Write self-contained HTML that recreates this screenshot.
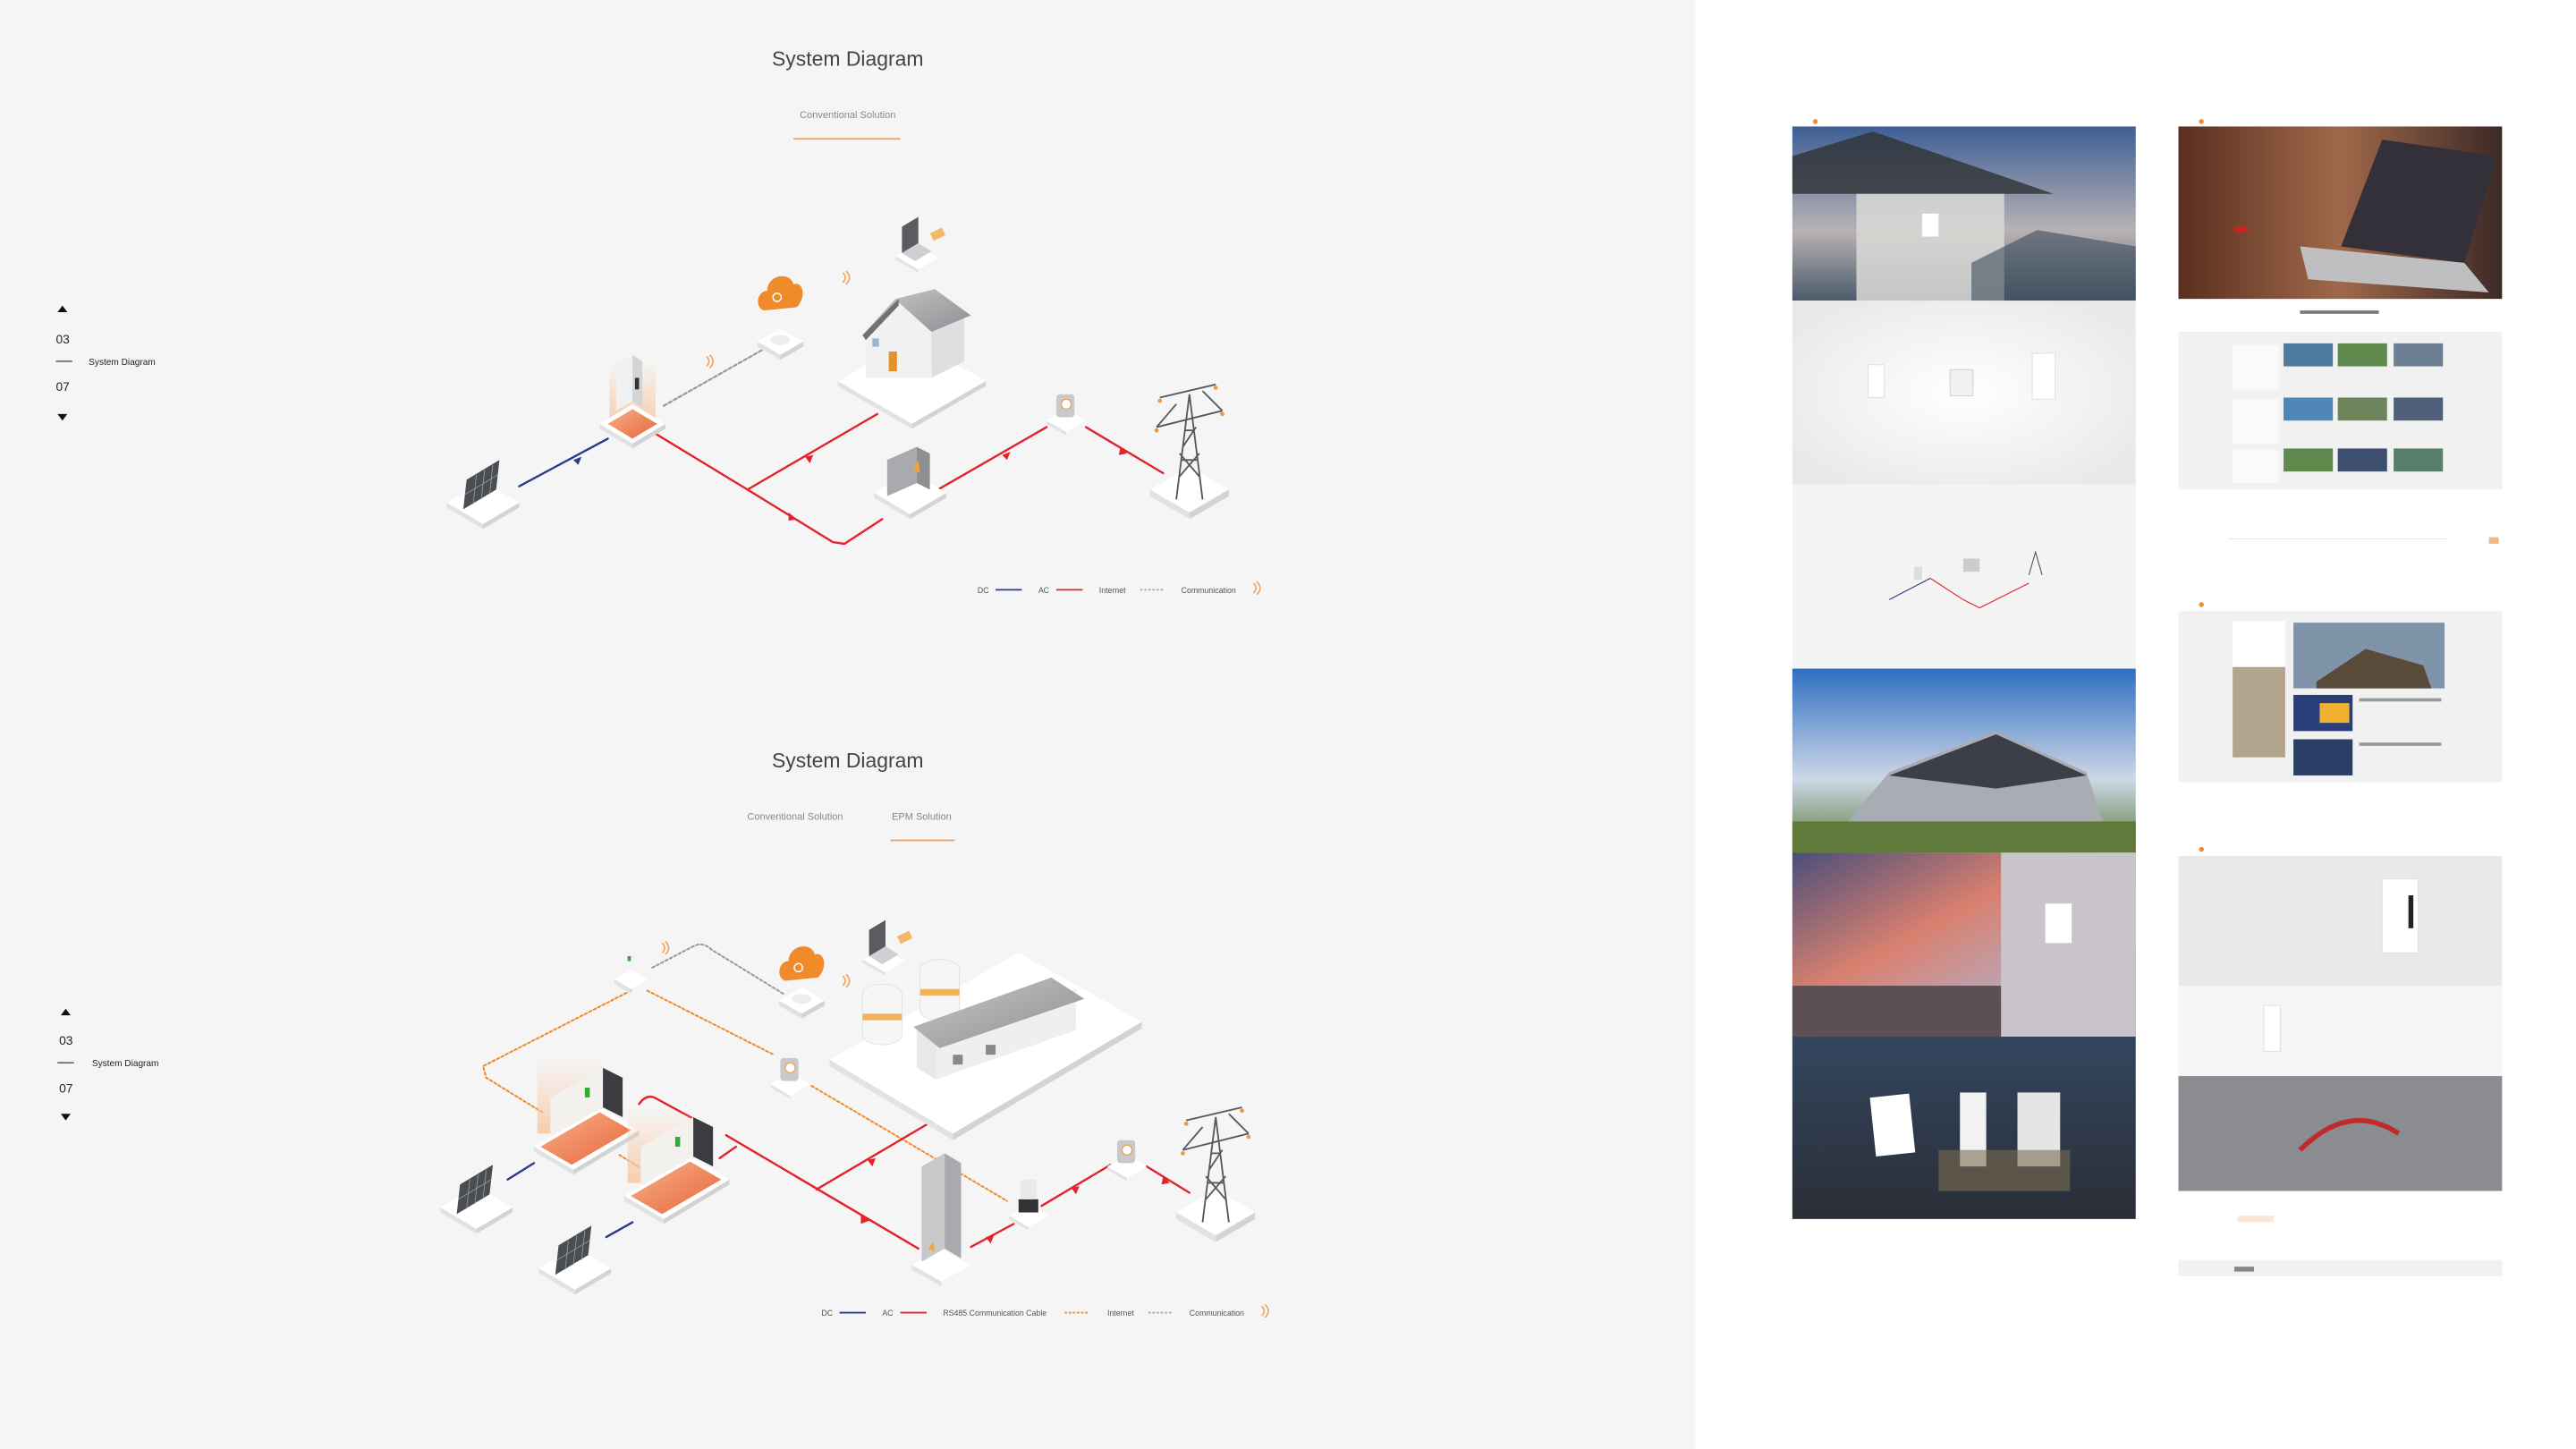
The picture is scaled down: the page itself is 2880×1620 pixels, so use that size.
<!DOCTYPE html>
<html><head><meta charset="utf-8"><style>
html,body{margin:0;padding:0;background:#fff;}
svg{display:block;width:2880px;height:1620px;}
text{font-family:"Liberation Sans",sans-serif;}
</style></head><body>
<svg viewBox="0 0 1568 882" preserveAspectRatio="none" xmlns="http://www.w3.org/2000/svg">
<defs>
<linearGradient id="og" x1="0" y1="0" x2="1" y2="1"><stop offset="0" stop-color="#f6b28a"/><stop offset="1" stop-color="#e8643a"/></linearGradient>
<linearGradient id="glow" x1="0" y1="1" x2="0" y2="0"><stop offset="0" stop-color="#f7c9a5" stop-opacity=".9"/><stop offset="1" stop-color="#f7c9a5" stop-opacity="0"/></linearGradient>
<linearGradient id="roof" x1="0" y1="0" x2="1" y2="1"><stop offset="0" stop-color="#c8c8ca"/><stop offset="1" stop-color="#8d8e91"/></linearGradient>
<linearGradient id="sky1" x1="0" y1="0" x2="0" y2="1"><stop offset="0" stop-color="#3d5f95"/><stop offset=".6" stop-color="#b9b2b5"/><stop offset="1" stop-color="#4b5b6a"/></linearGradient>
<linearGradient id="sky2" x1="0" y1="0" x2="0" y2="1"><stop offset="0" stop-color="#2f6fc2"/><stop offset=".6" stop-color="#cdd7e6"/><stop offset="1" stop-color="#5c7d3c"/></linearGradient>
<linearGradient id="sky3" x1="0" y1="0" x2="1" y2="1"><stop offset="0" stop-color="#4a4f7a"/><stop offset=".4" stop-color="#d9806f"/><stop offset=".7" stop-color="#b9a7b8"/><stop offset="1" stop-color="#6e6a78"/></linearGradient>
<linearGradient id="sky4" x1="0" y1="0" x2="0" y2="1"><stop offset="0" stop-color="#33465f"/><stop offset="1" stop-color="#2a2e36"/></linearGradient>
<linearGradient id="lap" x1="0" y1="0" x2="1" y2="0"><stop offset="0" stop-color="#5a2f1f"/><stop offset=".5" stop-color="#a0684a"/><stop offset="1" stop-color="#3c2a26"/></linearGradient>
<radialGradient id="wav" cx=".5" cy=".5" r=".6"><stop offset="0" stop-color="#fff"/><stop offset="1" stop-color="#e9e9ea"/></radialGradient>
<g id="base">
<polygon points="-22,0 0,-13 22,0 0,13" fill="#fff"/>
<polygon points="-22,0 0,13 0,16 -22,3" fill="#e2e2e2"/>
<polygon points="22,0 0,13 0,16 22,3" fill="#d4d4d4"/>
</g>
<g id="solar">
<use href="#base"/>
<polygon points="-12,4 8,-8 10,-26 -10,-14" fill="#4a4d52"/>
<g stroke="#9aa" stroke-width=".4"><line x1="-11" y1="-5" x2="9" y2="-17"/><line x1="-6" y1="1" x2="-4" y2="-17"/><line x1="-1" y1="-2" x2="1" y2="-20"/><line x1="4" y1="-5" x2="6" y2="-23"/></g>
</g>
<g id="meter">
<polygon points="-12,0 0,-7 12,0 0,7" fill="#fff"/><polygon points="-12,0 0,7 0,9 -12,2" fill="#e3e3e3"/>
<rect x="-6" y="-16" width="11" height="14" rx="2" fill="#c9c9cb"/><circle cx="0" cy="-10" r="3" fill="#fff" stroke="#e89b4c" stroke-width=".6"/>
</g>
<g id="tower" stroke="#55585c" stroke-width="1" fill="none">
<polygon points="-24,8 0,-6 24,8 0,22" fill="#fff" stroke="none"/>
<polygon points="-24,8 0,22 0,26 -24,12" fill="#e2e2e2" stroke="none"/>
<polygon points="24,8 0,22 0,26 24,12" fill="#d3d3d3" stroke="none"/>
<path d="M-8,14 L0,-50 L8,14 M-5,-10 L5,-10 M-3,-28 L3,-28 M-6,0 L6,-14 M6,0 L-6,-14 M-4,-18 L4,-30"/>
<path d="M-20,-30 L20,-40 M-18,-48 L16,-56 M-20,-30 L-8,-44 M20,-40 L8,-52"/>
<g fill="#e89b4c" stroke="none"><circle cx="-20" cy="-28" r="1.3"/><circle cx="20" cy="-38" r="1.3"/><circle cx="-18" cy="-46" r="1.3"/><circle cx="16" cy="-54" r="1.3"/></g>
</g>
<g id="cloud"><path d="M-10,8 C-16,6 -14,-4 -8,-4 C-8,-14 6,-16 8,-8 C14,-10 16,0 10,6 Z" fill="#f08b2c"/><circle cx="-2" cy="0" r="2.5" fill="none" stroke="#fff" stroke-width=".8"/></g>
<g id="laptop">
<polygon points="-12,4 0,-3 14,5 2,12" fill="#fff"/><polygon points="-12,4 2,12 2,14 -12,6" fill="#e3e3e3"/>
<polygon points="-8,2 2,-4 10,1 0,7" fill="#cfd0d2"/><polygon points="-8,2 -8,-14 2,-20 2,-4" fill="#5a5c60"/>
<rect x="10" y="-12" width="8" height="5" fill="#f2b868" transform="rotate(-25 14 -9)"/>
</g>
<g id="router"><polygon points="-14,0 0,-8 14,0 0,8" fill="#fff"/><polygon points="-14,0 0,8 0,11 -14,3" fill="#e1e1e1"/><polygon points="14,0 0,8 0,11 14,3" fill="#d3d3d3"/><ellipse cx="0" cy="-1" rx="6" ry="3" fill="#eee"/></g>
<g id="wifi" fill="none" stroke="#f0a050" stroke-width=".8"><path d="M0,0 q3,-3 0,-6"/><path d="M2,1 q4,-4 0,-8"/></g>
</defs>

<rect x="0" y="0" width="1568" height="882" fill="#fff"/>
<rect x="0" y="0" width="1032" height="882" fill="#f5f5f5"/>

<!-- ===== Panel 1 ===== -->
<text x="516" y="40" text-anchor="middle" font-size="12.5" fill="#444">System Diagram</text>
<text x="516" y="72" text-anchor="middle" font-size="6" fill="#888">Conventional Solution</text>
<rect x="483" y="84" width="65" height="1" fill="#f2a25e"/>

<g font-size="7.5" fill="#222">
<polygon points="35,190 38,186 41,190" fill="#111"/>
<text x="34" y="209">03</text>
<rect x="34" y="219.5" width="10" height=".8" fill="#555"/>
<text x="54" y="222" font-size="5.5">System Diagram</text>
<text x="34" y="238">07</text>
<polygon points="35,252 38,256 41,252" fill="#111"/>
</g>

<g fill="none" stroke-linecap="round">
<line x1="316" y1="296" x2="370" y2="267" stroke="#2c3a8c" stroke-width="1.3"/>
<polyline points="399,264 455,298 507,330 514,331 537,316" stroke="#e3222b" stroke-width="1.3"/>
<line x1="455" y1="298" x2="534" y2="252" stroke="#e3222b" stroke-width="1.3"/>
<line x1="571" y1="298" x2="637" y2="260" stroke="#e3222b" stroke-width="1.3"/>
<line x1="661" y1="260" x2="708" y2="288" stroke="#e3222b" stroke-width="1.3"/>
<line x1="404" y1="247" x2="464" y2="213" stroke="#999" stroke-width="1.2" stroke-dasharray="2,1.5"/>
</g>
<g fill="#e3222b"><polygon points="490,278 495,277 493,282"/><polygon points="480,312 485,316 480,317"/><polygon points="610,277 615,275 613,280"/><polygon points="682,272 686,276 681,277"/></g>
<polygon points="349,280 354,278 352,283" fill="#2c3a8c"/>

<use href="#solar" x="294" y="306"/>
<g transform="translate(385,258)">
<rect x="-14" y="-38" width="28" height="38" fill="url(#glow)"/>
<polygon points="-20,0 0,-12 20,0 0,12" fill="#fff"/>
<polygon points="-15,0 0,-9 15,0 0,9" fill="url(#og)"/>
<polygon points="-20,0 0,12 0,15 -20,3" fill="#e2e2e2"/><polygon points="20,0 0,12 0,15 20,3" fill="#d3d3d3"/>
<polygon points="-10,-8 -10,-36 0,-42 0,-14" fill="#f1f1f1"/><polygon points="0,-14 0,-42 6,-38 6,-10" fill="#d5d5d6"/>
<rect x="1.5" y="-28" width="2.5" height="7" fill="#333"/>
</g>
<use href="#wifi" x="430" y="223"/>
<use href="#router" x="475" y="208"/>
<use href="#cloud" x="475" y="181"/>
<use href="#wifi" x="513" y="172"/>
<use href="#laptop" x="557" y="152"/>
<g transform="translate(555,232)">
<polygon points="-45,0 0,-26 45,0 0,26" fill="#fff"/>
<polygon points="-45,0 0,26 0,29 -45,3" fill="#e2e2e2"/><polygon points="45,0 0,26 0,29 45,3" fill="#d3d3d3"/>
<polygon points="-28,-2 -28,-30 -8,-48 12,-30 12,-2" fill="#f1f1f1"/>
<polygon points="12,-2 12,-30 32,-40 32,-12" fill="#dedfe0"/>
<polygon points="-30,-28 -10,-50 14,-56 36,-40 12,-30 -8,-48" fill="url(#roof)"/>
<polygon points="-30,-28 -8,-50 -8,-46 -28,-25" fill="#707174"/>
<rect x="-14" y="-18" width="5" height="12" fill="#e0932f"/>
<rect x="-24" y="-26" width="4" height="5" fill="#9fb3c6"/>
</g>
<g transform="translate(554,300)">
<use href="#base"/>
<polygon points="-14,2 -14,-20 4,-28 4,-6" fill="#a9aaad"/><polygon points="4,-6 4,-28 12,-24 12,-2" fill="#8e8f92"/>
<polygon points="2,-14 5,-20 6,-12" fill="#f2a43a"/>
</g>
<use href="#meter" x="649" y="256"/>
<use href="#tower" x="724" y="290"/>

<g font-size="4.8" fill="#555">
<text x="595" y="361">DC</text><line x1="606" y1="359" x2="622" y2="359" stroke="#2c3a8c" stroke-width="1"/>
<text x="632" y="361">AC</text><line x1="643" y1="359" x2="659" y2="359" stroke="#e3222b" stroke-width="1"/>
<text x="669" y="361">Internet</text><line x1="694" y1="359" x2="709" y2="359" stroke="#aaa" stroke-width="1" stroke-dasharray="1.5,1"/>
<text x="719" y="361">Communication</text><use href="#wifi" x="763" y="361"/>
</g>

<!-- ===== Panel 2 ===== -->
<text x="516" y="467" text-anchor="middle" font-size="12.5" fill="#444">System Diagram</text>
<text x="484" y="499" text-anchor="middle" font-size="6" fill="#888">Conventional Solution</text>
<text x="561" y="499" text-anchor="middle" font-size="6" fill="#888">EPM Solution</text>
<rect x="542" y="511" width="39" height="1" fill="#f2a25e"/>

<g font-size="7.5" fill="#222">
<polygon points="37,618 40,614 43,618" fill="#111"/>
<text x="36" y="636">03</text>
<rect x="35" y="646.5" width="10" height=".8" fill="#555"/>
<text x="56" y="649" font-size="5.5">System Diagram</text>
<text x="36" y="665">07</text>
<polygon points="37,678 40,682 43,678" fill="#111"/>
</g>

<g fill="none" stroke-linecap="round">
<polyline points="384,603 294,649 296,656 330,677" stroke="#f08b2c" stroke-width="1.1" stroke-dasharray="1.5,1.5"/>
<polyline points="394,603 471,642" stroke="#f08b2c" stroke-width="1.1" stroke-dasharray="1.5,1.5"/>
<polyline points="494,661 613,731" stroke="#f08b2c" stroke-width="1.1" stroke-dasharray="1.5,1.5"/>
<polyline points="377,703 390,711" stroke="#f08b2c" stroke-width="1.1" stroke-dasharray="1.5,1.5"/>
<path d="M397,589 L422,576 Q428,573 433,578 L477,605" stroke="#999" stroke-width="1.1" stroke-dasharray="1.5,1.5"/>
<path d="M389,672 Q394,665 400,669 L424,682" stroke="#e3222b" stroke-width="1.3"/>
<line x1="442" y1="691" x2="559" y2="760" stroke="#e3222b" stroke-width="1.3"/>
<line x1="497" y1="724" x2="575" y2="678" stroke="#e3222b" stroke-width="1.3"/>
<line x1="591" y1="759" x2="617" y2="745" stroke="#e3222b" stroke-width="1.3"/>
<line x1="634" y1="734" x2="676" y2="709" stroke="#e3222b" stroke-width="1.3"/>
<line x1="698" y1="710" x2="724" y2="726" stroke="#e3222b" stroke-width="1.3"/>
<line x1="438" y1="705" x2="448" y2="698" stroke="#e3222b" stroke-width="1.3"/>
<line x1="309" y1="718" x2="325" y2="708" stroke="#2c3a8c" stroke-width="1.3"/>
<line x1="369" y1="753" x2="385" y2="744" stroke="#2c3a8c" stroke-width="1.3"/>
</g>
<g fill="#e3222b"><polygon points="528,706 533,705 531,710"/><polygon points="524,740 529,743 524,745"/><polygon points="600,753 605,752 603,757"/><polygon points="652,723 657,722 655,727"/><polygon points="708,716 712,720 707,721"/></g>

<use href="#solar" x="290" y="735"/>
<use href="#solar" x="350" y="772"/>
<g transform="translate(357,690)">
<rect x="-30" y="-45" width="40" height="45" fill="url(#glow)"/>
<polygon points="-32,8 8,-16 32,-2 -8,22" fill="#fff"/>
<polygon points="-28,8 8,-13 27,-2 -9,19" fill="url(#og)"/>
<polygon points="-32,8 -8,22 -8,25 -32,11" fill="#e2e2e2"/><polygon points="32,-2 -8,22 -8,25 32,1" fill="#d2d2d2"/>
<polygon points="-22,2 -22,-22 10,-40 10,-16" fill="#f3f1ee"/><polygon points="10,-16 10,-40 22,-34 22,-10" fill="#3b3c3f"/>
<rect x="-1" y="-28" width="3" height="6" fill="#3a3"/>
</g>
<g transform="translate(412,720)">
<rect x="-30" y="-45" width="40" height="45" fill="url(#glow)"/>
<polygon points="-32,8 8,-16 32,-2 -8,22" fill="#fff"/>
<polygon points="-28,8 8,-13 27,-2 -9,19" fill="url(#og)"/>
<polygon points="-32,8 -8,22 -8,25 -32,11" fill="#e2e2e2"/><polygon points="32,-2 -8,22 -8,25 32,1" fill="#d2d2d2"/>
<polygon points="-22,2 -22,-22 10,-40 10,-16" fill="#f3f1ee"/><polygon points="10,-16 10,-40 22,-34 22,-10" fill="#3b3c3f"/>
<rect x="-1" y="-28" width="3" height="6" fill="#3a3"/>
</g>
<g transform="translate(384,596)">
<polygon points="-10,0 0,-6 10,0 0,6" fill="#fff"/><polygon points="-10,0 0,6 0,9 -10,3" fill="#e2e2e2"/>
<polygon points="-6,-2 -6,-14 4,-20 4,-8" fill="#f4f4f4"/><rect x="-2" y="-14" width="2" height="3" fill="#3a3"/>
</g>
<use href="#wifi" x="403" y="580"/>
<use href="#cloud" x="488" y="589"/>
<use href="#wifi" x="513" y="600"/>
<use href="#laptop" x="537" y="580"/>
<use href="#router" x="488" y="609"/>
<use href="#meter" x="481" y="660"/>
<g transform="translate(600,650)">
<polygon points="-95,-5 20,-70 95,-28 -20,40" fill="#fff"/>
<polygon points="-95,-5 -20,40 -20,44 -95,-1" fill="#e3e3e3"/><polygon points="95,-28 -20,40 -20,44 95,-24" fill="#d3d3d3"/>
<g fill="#f6f6f6" stroke="#ddd" stroke-width=".4">
<path d="M-75,-20 v-25 a12,6 0 0 1 24,0 v25 a12,6 0 0 1 -24,0z"/>
<path d="M-40,-35 v-25 a12,6 0 0 1 24,0 v25 a12,6 0 0 1 -24,0z"/>
</g>
<rect x="-75" y="-33" width="24" height="4" fill="#f2b25c"/><rect x="-40" y="-48" width="24" height="4" fill="#f2b25c"/>
<polygon points="-42,0 -42,-25 40,-55 40,-30" fill="#dcdcdd"/>
<polygon points="-42,0 -42,-25 -30,-18 -30,7" fill="#e8e8e8"/>
<polygon points="-30,7 -30,-18 55,-48 55,-23 " fill="#efefef"/>
<polygon points="-44,-25 40,-55 60,-42 -28,-12" fill="url(#roof)"/>
<rect x="-20" y="-8" width="6" height="6" fill="#888"/><rect x="0" y="-14" width="6" height="6" fill="#888"/>
</g>
<g transform="translate(573,770)">
<polygon points="-18,0 0,-10 18,0 0,10" fill="#fff"/><polygon points="-18,0 0,10 0,13 -18,3" fill="#e2e2e2"/>
<polygon points="-12,-2 -12,-60 2,-68 2,-10" fill="#c7c8ca"/><polygon points="2,-10 2,-68 12,-62 12,-4" fill="#a9aaad"/>
<polygon points="-8,-10 -5,-14 -4,-8" fill="#f2a43a"/>
</g>
<g transform="translate(626,740)">
<polygon points="-12,0 0,-7 12,0 0,7" fill="#fff"/><polygon points="-12,0 0,7 0,9 -12,2" fill="#e2e2e2"/>
<rect x="-6" y="-10" width="12" height="8" fill="#333"/><rect x="-5" y="-22" width="10" height="12" rx="2" fill="#e9e9e9"/>
</g>
<use href="#meter" x="686" y="710"/>
<use href="#tower" x="740" y="730"/>

<g font-size="4.8" fill="#555">
<text x="500" y="801">DC</text><line x1="511" y1="799" x2="527" y2="799" stroke="#2c3a8c" stroke-width="1"/>
<text x="537" y="801">AC</text><line x1="548" y1="799" x2="564" y2="799" stroke="#e3222b" stroke-width="1"/>
<text x="574" y="801">RS485 Communication Cable</text><line x1="648" y1="799" x2="663" y2="799" stroke="#f08b2c" stroke-width="1" stroke-dasharray="1.5,1"/>
<text x="674" y="801">Internet</text><line x1="699" y1="799" x2="714" y2="799" stroke="#aaa" stroke-width="1" stroke-dasharray="1.5,1"/>
<text x="724" y="801">Communication</text><use href="#wifi" x="768" y="801"/>
</g>

<!-- ===== Right thumbnails ===== -->
<g>
<rect x="1091" y="71" width="209" height="6" fill="#fff"/>
<circle cx="1105" cy="74" r="1.5" fill="#f08b2c"/>
<rect x="1091" y="77" width="209" height="106" fill="url(#sky1)"/>
<polygon points="1091,95 1140,80 1250,118 1091,118" fill="#2f3234" opacity=".8"/>
<rect x="1130" y="118" width="90" height="65" fill="#d9d9d6" opacity=".85"/>
<rect x="1170" y="130" width="10" height="14" fill="#fff"/>
<polygon points="1200,160 1240,140 1300,150 1300,183 1200,183" fill="#3c4c5c" opacity=".6"/>
<rect x="1091" y="183" width="209" height="112" fill="url(#wav)"/>
<rect x="1137" y="222" width="10" height="20" fill="#fff" stroke="#ddd" stroke-width=".5"/>
<rect x="1187" y="225" width="14" height="16" fill="#f1f1f1" stroke="#ccc" stroke-width=".5"/>
<rect x="1237" y="215" width="14" height="28" fill="#fff" stroke="#ddd" stroke-width=".5"/>
<rect x="1091" y="295" width="209" height="112" fill="#f4f4f4"/>
<line x1="1150" y1="365" x2="1175" y2="352" stroke="#2c3a8c" stroke-width=".6"/>
<polyline points="1175,352 1195,365 1205,370 1235,355" fill="none" stroke="#e3222b" stroke-width=".6"/>
<rect x="1165" y="345" width="5" height="8" fill="#ddd"/><rect x="1195" y="340" width="10" height="8" fill="#ccc"/>
<path d="M1235,350 l4,-14 4,14" stroke="#555" stroke-width=".6" fill="none"/>
<rect x="1091" y="407" width="209" height="112" fill="url(#sky2)"/>
<polygon points="1125,500 1150,470 1215,445 1270,470 1280,500" fill="#a9adb3"/>
<polygon points="1150,472 1215,447 1270,472 1215,480" fill="#3a3f48"/>
<rect x="1091" y="500" width="209" height="19" fill="#5f7a3b"/>
<rect x="1091" y="519" width="209" height="112" fill="url(#sky3)"/>
<rect x="1218" y="519" width="82" height="112" fill="#c9c3cc"/>
<rect x="1245" y="550" width="16" height="24" fill="#fff"/>
<rect x="1091" y="600" width="127" height="31" fill="#5c4f55"/>
<rect x="1091" y="631" width="209" height="111" fill="url(#sky4)"/>
<rect x="1140" y="667" width="24" height="36" fill="#fff" transform="rotate(-6 1150 685)"/>
<rect x="1193" y="665" width="16" height="45" fill="#f2f2f2"/>
<rect x="1228" y="665" width="26" height="45" fill="#e5e5e5"/>
<rect x="1180" y="700" width="80" height="25" fill="#7b6b50" opacity=".6"/>
</g>
<g>
<rect x="1326" y="71" width="197" height="6" fill="#fff"/>
<circle cx="1340" cy="74" r="1.5" fill="#f08b2c"/>
<rect x="1326" y="77" width="197" height="105" fill="url(#lap)"/>
<polygon points="1425,150 1450,85 1520,95 1500,160" fill="#33303a"/>
<polygon points="1400,150 1500,160 1515,178 1405,170" fill="#bfbfc2"/>
<rect x="1360" y="138" width="8" height="3" fill="#c22"/>
<rect x="1326" y="182" width="197" height="20" fill="#fff"/>
<rect x="1400" y="189" width="48" height="2" fill="#777"/>
<rect x="1326" y="202" width="197" height="96" fill="#f1f1f1"/>
<rect x="1359" y="210" width="28" height="27" fill="#fafafa"/>
<rect x="1359" y="243" width="28" height="27" fill="#fafafa"/>
<rect x="1359" y="274" width="28" height="20" fill="#fafafa"/>
<g><rect x="1390" y="209" width="30" height="14" fill="#4f7b9f"/><rect x="1423" y="209" width="30" height="14" fill="#5f8a4e"/><rect x="1457" y="209" width="30" height="14" fill="#6d7f93"/>
<rect x="1390" y="242" width="30" height="14" fill="#4f86b8"/><rect x="1423" y="242" width="30" height="14" fill="#6d855a"/><rect x="1457" y="242" width="30" height="14" fill="#50607a"/>
<rect x="1390" y="273" width="30" height="14" fill="#5f8a4e"/><rect x="1423" y="273" width="30" height="14" fill="#3f4f6f"/><rect x="1457" y="273" width="30" height="14" fill="#577f6b"/></g>
<rect x="1326" y="298" width="197" height="37" fill="#fff"/>
<line x1="1356" y1="328" x2="1490" y2="328" stroke="#ddd" stroke-width=".4"/>
<rect x="1515" y="327" width="6" height="4" fill="#f5b887"/>

<rect x="1326" y="365" width="197" height="7" fill="#fff"/>
<circle cx="1340" cy="368" r="1.5" fill="#f08b2c"/>
<rect x="1326" y="372" width="197" height="104" fill="#f1f1f1"/>
<rect x="1359" y="378" width="32" height="28" fill="#fff"/>
<rect x="1359" y="406" width="32" height="55" fill="#b3a48e"/>
<rect x="1396" y="379" width="92" height="40" fill="#7f94a8"/>
<polygon points="1410,415 1440,395 1475,405 1480,419 1410,419" fill="#5a4a3a"/>
<rect x="1396" y="423" width="36" height="22" fill="#2a3f7a"/><rect x="1412" y="428" width="18" height="12" fill="#f0b030"/>
<rect x="1396" y="450" width="36" height="22" fill="#2b3f66"/>
<rect x="1436" y="425" width="50" height="2" fill="#999"/><rect x="1436" y="452" width="50" height="2" fill="#999"/>

<rect x="1326" y="515" width="197" height="6" fill="#fff"/>
<circle cx="1340" cy="517" r="1.5" fill="#f08b2c"/>
<rect x="1326" y="521" width="197" height="79" fill="#e9e9ea"/>
<rect x="1450" y="535" width="22" height="45" fill="#fff" stroke="#ddd" stroke-width=".5"/><rect x="1466" y="545" width="3" height="20" fill="#222"/>
<rect x="1326" y="600" width="197" height="55" fill="#f5f5f5"/>
<rect x="1378" y="612" width="10" height="28" fill="#fff" stroke="#ddd" stroke-width=".5"/>
<rect x="1326" y="655" width="197" height="70" fill="#8a8c90"/>
<path d="M1400,700 q30,-30 60,-10" stroke="#c02a2a" stroke-width="3" fill="none"/>
<rect x="1326" y="725" width="197" height="42" fill="#fff"/>
<rect x="1362" y="740" width="22" height="4" fill="#fae6d6"/>
<rect x="1326" y="767" width="197" height="10" fill="#f1f1f1"/>
<rect x="1360" y="771" width="12" height="3" fill="#888"/>
<rect x="1326" y="777" width="197" height="36" fill="#fff"/>
</g>
</svg>
</body></html>
